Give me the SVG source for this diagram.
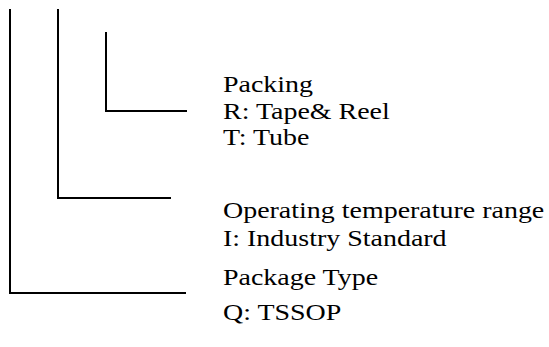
<svg xmlns="http://www.w3.org/2000/svg" width="549" height="347" viewBox="0 0 549 347">
<style>
text{font-family:'Liberation Serif','Times New Roman',serif;font-size:24px;fill:#000}
.c{stroke:#000;stroke-width:2;fill:none}
</style>
<rect width="549" height="347" fill="#fff"/>
<g id="connectors">
<polyline class="c" points="10,9 10,293 186,293"/>
<polyline class="c" points="58,9 58,198 171,198"/>
<polyline class="c" points="106,32 106,111 187,111"/>
</g>
<g transform="translate(223,0) scale(1.165,1)">
<g id="packing">
<text x="0" y="92">Packing</text>
<text x="0" y="119">R: Tape&amp; Reel</text>
<text x="0" y="145">T: Tube</text>
</g>
<g id="temperature">
<text x="0" y="218">Operating temperature range</text>
<text x="0" y="246">I: Industry Standard</text>
</g>
<g id="package">
<text x="0" y="285">Package Type</text>
<text x="0" y="320">Q: TSSOP</text>
</g>
</g>
</svg>
